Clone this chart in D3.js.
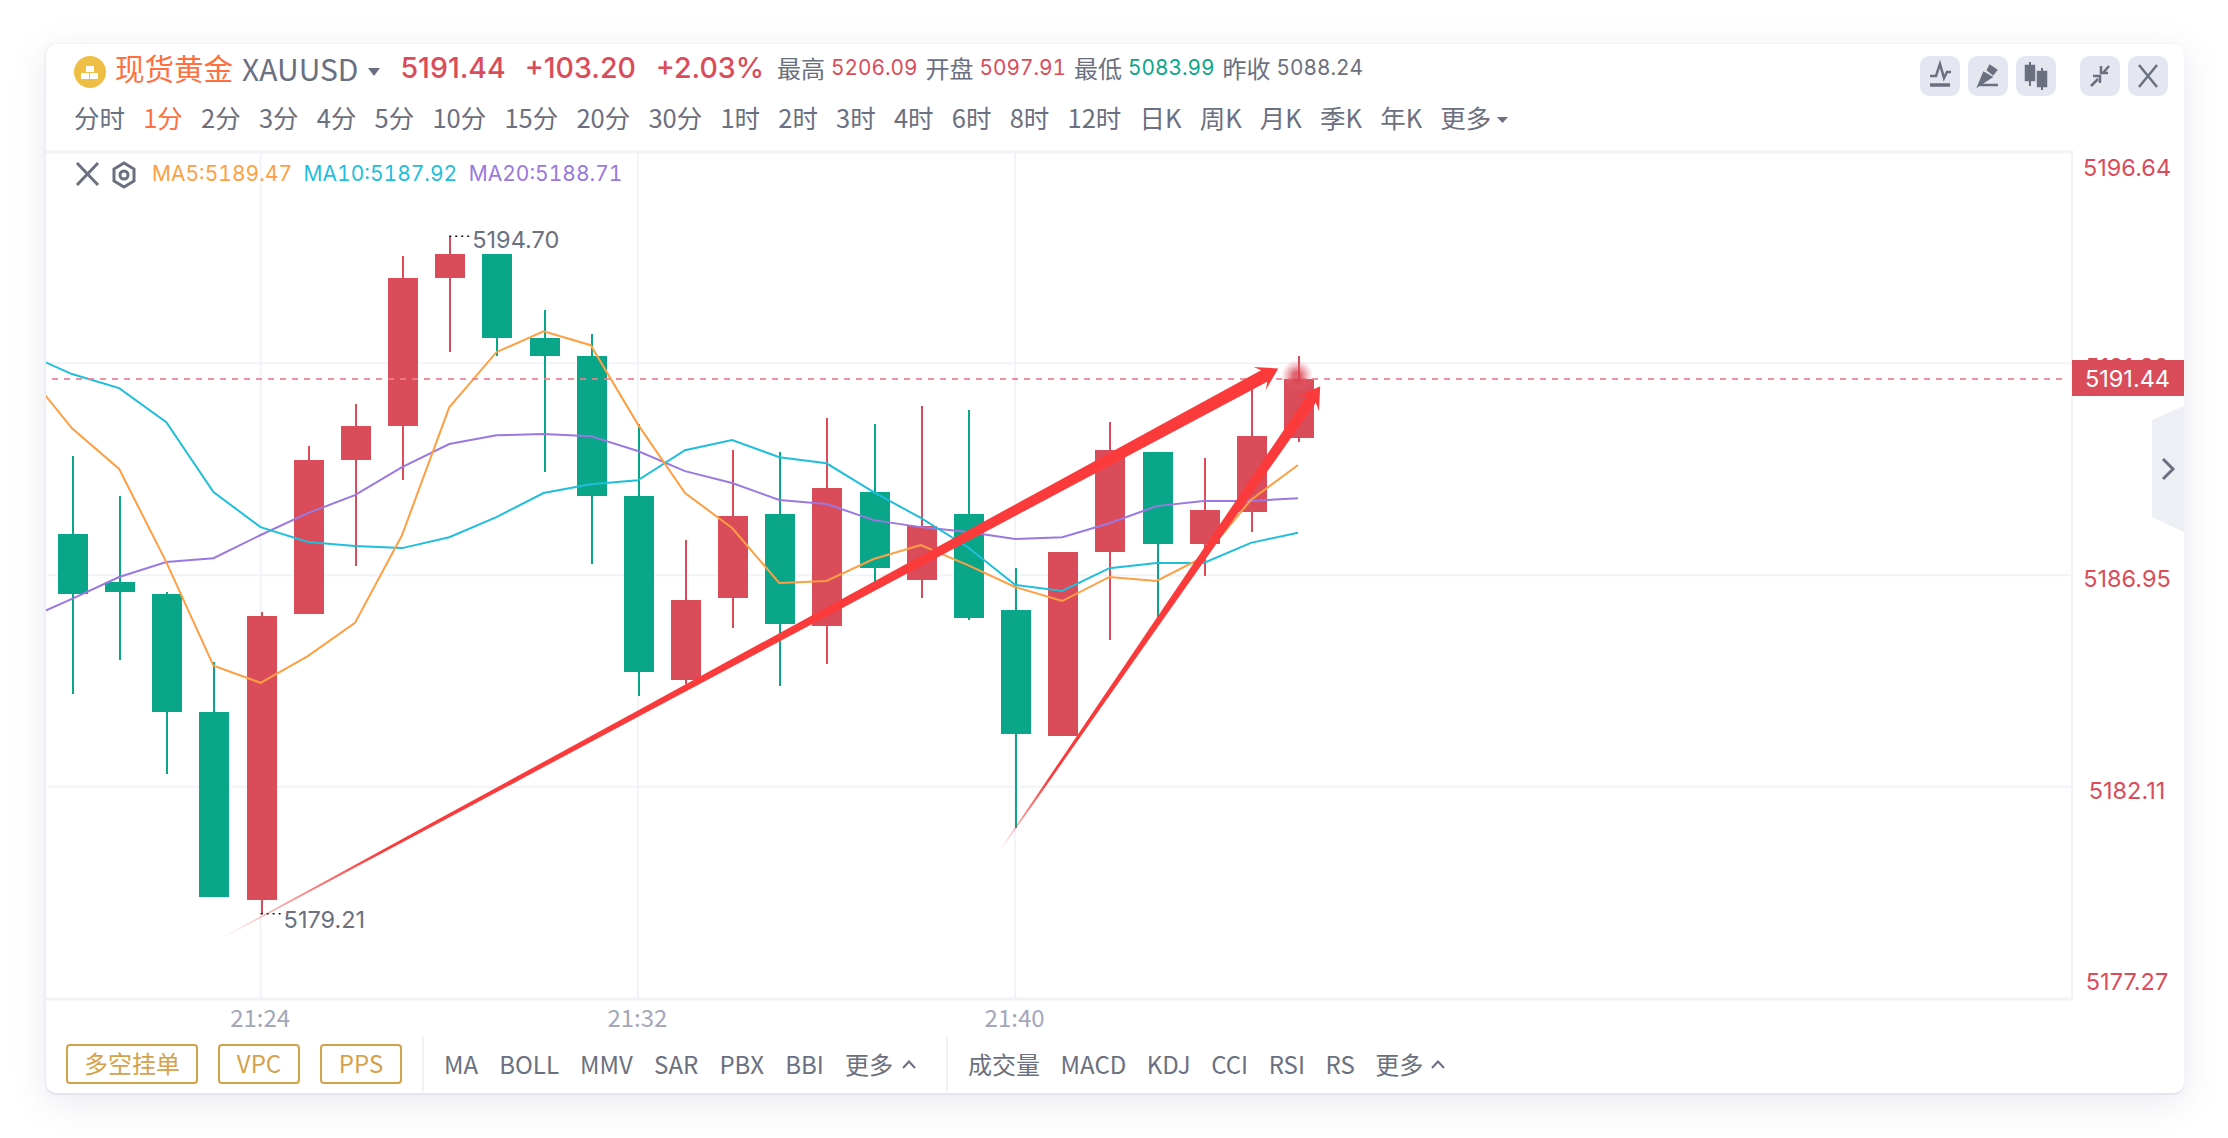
<!DOCTYPE html>
<html>
<head>
<meta charset="utf-8">
<script src="https://cdn.jsdelivr.net/npm/d3@7"></script>
<style>
  html, body { margin: 0; padding: 0; background: #fff; }
  body { width: 2228px; height: 1138px; position: relative; overflow: hidden; font-family: "Noto Sans CJK SC", sans-serif; color: #6b7080; }
  #panel { position: absolute; left: 46px; top: 44px; width: 2138px; height: 1049px; background: #fff; border-radius: 10px;
           box-shadow: 0 2px 1px #e3e5ee, -1px 0 2px #e8e9f0, 0 8px 36px rgba(80,85,120,.13); }
  svg { position: absolute; left: 0; top: 0; }
  .row { position: absolute; display: flex; align-items: center; white-space: nowrap; line-height: 1; }
  .num { font-family: Inter, sans-serif; }
  .tab { font-variant-numeric: tabular-nums; }
  text { font-family: "Noto Sans CJK SC", sans-serif; }
  .btn { border: 2px solid #d4a24c; color: #d4a24c; border-radius: 4px; height: 36px; padding-bottom: 2px; height: 34px; display: flex; align-items: center; justify-content: center; font-size: 24px; box-sizing: content-box; }
</style>
</head>
<body>
<div id="panel"></div>
<svg id="chart" width="2228" height="1138"></svg>
<script>
// minute candles, oldest first
const times = ["21:20","21:21","21:22","21:23","21:24","21:25","21:26","21:27","21:28","21:29","21:30","21:31","21:32","21:33","21:34","21:35","21:36","21:37","21:38","21:39","21:40","21:41","21:42","21:43","21:44","21:45","21:46"];
const opens  = [5187.89,5186.79,5186.52,5183.83,5179.53,5186.06,5189.58,5190.36,5193.74,5194.29,5192.37,5191.96,5188.76,5184.56,5186.43,5188.35,5185.79,5188.85,5186.84,5188.35,5186.15,5183.28,5187.48,5189.76,5187.66,5188.39,5190.08];
const closes = [5186.52,5186.57,5183.83,5179.58,5186.02,5189.58,5190.36,5193.74,5194.29,5192.37,5191.96,5188.76,5184.74,5186.38,5188.30,5185.84,5188.94,5187.11,5188.07,5185.97,5183.32,5187.48,5189.81,5187.66,5188.44,5190.13,5191.44];
const highs  = [5189.67,5188.76,5186.57,5184.97,5186.11,5189.90,5190.86,5194.24,5194.70,5194.29,5193.01,5192.46,5190.40,5187.75,5189.81,5189.76,5190.54,5190.40,5190.81,5190.72,5187.11,5187.48,5190.45,5189.76,5189.63,5191.23,5191.96];
const lows   = [5184.24,5185.01,5182.41,5179.58,5179.21,5186.06,5187.16,5189.12,5192.05,5191.96,5189.31,5187.21,5184.19,5184.47,5185.74,5184.42,5184.92,5186.79,5186.43,5185.93,5181.18,5183.28,5185.47,5185.93,5186.93,5187.94,5189.99];

// moving averages start one candle before the first full one
const ma5  = [5191.64,5190.31,5189.38,5187.25,5184.88,5184.49,5185.10,5185.86,5187.87,5190.79,5192.05,5192.53,5192.21,5190.40,5188.83,5188.03,5186.77,5186.82,5187.32,5187.64,5187.18,5186.68,5186.36,5186.91,5186.82,5187.37,5188.67,5189.47];
const ma10 = [5192.03,5191.55,5191.23,5190.45,5188.85,5188.05,5187.71,5187.62,5187.57,5187.82,5188.28,5188.83,5189.03,5189.12,5189.81,5190.04,5189.65,5189.51,5188.85,5188.26,5187.59,5186.73,5186.59,5187.11,5187.23,5187.23,5187.69,5187.92];
const ma20 = [5185.93,5186.41,5186.91,5187.25,5187.34,5187.87,5188.37,5188.78,5189.42,5189.95,5190.15,5190.18,5190.13,5189.79,5189.33,5189.06,5188.67,5188.58,5188.21,5188.05,5187.94,5187.78,5187.82,5188.14,5188.53,5188.65,5188.65,5188.71];

const yTicks = [5196.64,5191.80,5186.95,5182.11,5177.27];
const xTickIndex = [4,12,20];
const lastPrice = 5191.44;

// hand drawn arrows: [candle index, price]
const arrowTails = [[3.22,5178.69],[19.70,5180.72]];
const arrowTips  = [[25.56,5191.68],[26.45,5191.27]];

const timeframes = ["分时","1分","2分","3分","4分","5分","10分","15分","20分","30分","1时","2时","3时","4时","6时","8时","12时","日K","周K","月K","季K","年K","更多"];
const statLabels = ["最高","开盘","最低","昨收"];
const statValues = ["5206.09","5097.91","5083.99","5088.24"];
const mainIndicators = ["MA","BOLL","MMV","SAR","PBX","BBI","更多"];
const subIndicators = ["成交量","MACD","KDJ","CCI","RSI","RS","更多"];
const orderButtons = ["多空挂单","VPC","PPS"];

const RED = "#db4c5a", GREEN = "#0aa68a", GREY = "#6b7080", ORANGE = "#ff9f43", CYAN = "#1fbfdc", PURPLE = "#9b78e0", GRID = "#f2f3f8";

const plot = {left: 46, right: 2072, top: 152, bottom: 999};

const x = d3.scaleLinear().domain([0, 26]).range([73, 1299]);
const y = d3.scaleLinear().domain([5177.27, 5196.64]).range([plot.bottom - .5, plot.top - .5]);

const svg = d3.select("#chart");
const defs = svg.append("defs");
defs.append("clipPath").attr("id", "plotClip").append("rect")
    .attr("x", plot.left).attr("y", plot.top).attr("width", plot.right - plot.left).attr("height", plot.bottom - plot.top);

// Grid and frame
const grid = svg.append("g").attr("stroke", GRID).attr("stroke-width", 2);
grid.selectAll(".h").data(yTicks.slice(1, 4)).join("line")
    .attr("x1", plot.left + 2).attr("x2", plot.right).attr("y1", d => y(d)).attr("y2", d => y(d));
grid.selectAll(".v").data(xTickIndex).join("line")
    .attr("x1", d => x(d) - 1).attr("x2", d => x(d) - 1).attr("y1", plot.top).attr("y2", plot.bottom);
grid.append("line").attr("x1", plot.left).attr("x2", plot.right).attr("y1", plot.top).attr("y2", plot.top).attr("stroke-width", 3);
grid.append("line").attr("x1", plot.left).attr("x2", plot.right).attr("y1", plot.bottom).attr("y2", plot.bottom).attr("stroke-width", 3);
grid.append("line").attr("x1", plot.right).attr("x2", plot.right).attr("y1", plot.top - 2).attr("y2", plot.bottom);

// Candles
const candles = svg.append("g").attr("clip-path", "url(#plotClip)");
const color = i => closes[i] >= opens[i] ? RED : GREEN;
const cx = i => Math.round(x(i));
candles.selectAll("line").data(times).join("line")
    .attr("x1", (d, i) => cx(i)).attr("x2", (d, i) => cx(i))
    .attr("y1", (d, i) => Math.round(y(highs[i]))).attr("y2", (d, i) => Math.round(y(lows[i])))
    .attr("stroke-width", 2).attr("stroke", (d, i) => color(i));
candles.selectAll("rect").data(times).join("rect")
    .attr("x", (d, i) => cx(i) - 15).attr("width", 30)
    .attr("y", (d, i) => Math.round(y(Math.max(opens[i], closes[i]))))
    .attr("height", (d, i) => Math.max(1, Math.round(y(Math.min(opens[i], closes[i]))) - Math.round(y(Math.max(opens[i], closes[i])))))
    .attr("fill", (d, i) => color(i));

// Moving averages
const maLine = d3.line().x((d, i) => x(i - 1) - 1).y(d => y(d));
svg.append("g").attr("clip-path", "url(#plotClip)").attr("fill", "none").attr("stroke-width", 2)
  .selectAll("path").data([[ma20, PURPLE], [ma10, CYAN], [ma5, ORANGE]]).join("path")
    .attr("d", d => maLine(d[0])).attr("stroke", d => d[1]);

// Last price line
svg.append("line").attr("x1", plot.left + 6).attr("x2", plot.right - 4).attr("y1", y(lastPrice)).attr("y2", y(lastPrice))
    .attr("stroke", "#ee7f8c").attr("stroke-width", 2).attr("stroke-dasharray", "6 6").attr("opacity", .85);

// Pulse on the last candle
const glow = defs.append("radialGradient").attr("id", "glow");
glow.append("stop").attr("offset", "25%").attr("stop-color", "#d8404f").attr("stop-opacity", .8);
glow.append("stop").attr("offset", "100%").attr("stop-color", "#e8707c").attr("stop-opacity", 0);
svg.append("circle").attr("cx", x(26) - 2).attr("cy", y(lastPrice) - 3).attr("r", 16).attr("fill", "url(#glow)");

// Extreme labels
const iMax = d3.maxIndex(highs), iMin = d3.minIndex(lows);
[[iMax, highs[iMax], 3.5], [iMin, lows[iMin], 6]].forEach(([i, v, dy]) => {
  svg.append("line").attr("x1", x(i) - 1).attr("x2", x(i) + 20).attr("y1", y(v)).attr("y2", y(v))
      .attr("stroke", "#111").attr("stroke-width", 1.5).attr("stroke-dasharray", "2 4");
  svg.append("text").attr("x", x(i) + 22).attr("y", y(v) + dy).attr("dy", ".36em")
      .style("font-family", "Inter").style("font-size", "23.5px").attr("fill", GREY).text(v.toFixed(2));
});

// Arrows, tapered and fading out at the tail
const arrowPoly = d3.line();
arrowTails.forEach((tail, k) => {
  const p0 = [x(tail[0]), y(tail[1])], p1 = [x(arrowTips[k][0]), y(arrowTips[k][1])];
  const dx = p1[0] - p0[0], dy = p1[1] - p0[1], len = Math.hypot(dx, dy);
  const at = (d, w) => [p0[0] + dx / len * d - dy / len * w, p0[1] + dy / len * d + dx / len * w];
  const neck = len - 16, back = len - 21, hw = k === 0 ? 6.5 : 5.6;
  const steps = d3.range(0, 1.001, .1);
  const width = t => .5 + (hw - .5) * t;
  const pts = [
    ...steps.map(t => at(neck * t, width(t))),
    at(back, 13), p1, at(back, -13),
    ...steps.slice().reverse().map(t => at(neck * t, -width(t)))
  ];
  const g = defs.append("linearGradient").attr("id", "arrow" + k).attr("gradientUnits", "userSpaceOnUse")
      .attr("x1", p0[0]).attr("y1", p0[1]).attr("x2", p1[0]).attr("y2", p1[1]);
  g.append("stop").attr("offset", 0).attr("stop-color", "#fb3b3b").attr("stop-opacity", .05);
  g.append("stop").attr("offset", .06).attr("stop-color", "#fb3b3b").attr("stop-opacity", .55);
  g.append("stop").attr("offset", .15).attr("stop-color", "#fb3b3b").attr("stop-opacity", 1);
  svg.append("path").attr("d", arrowPoly(pts) + "Z").attr("fill", `url(#arrow${k})`);
});

// Axes
const yAxis = d3.axisRight(y).tickValues(yTicks).tickFormat(d3.format(".2f")).tickSize(0).tickPadding(0);
const yAxisG = svg.append("g").attr("transform", "translate(2127,0)").call(yAxis);
yAxisG.select(".domain").remove();
const yLabelShift = [16.5, 4, 3.5, 4.5, -16.5];
yAxisG.selectAll("text").attr("text-anchor", "middle").attr("fill", RED)
    .attr("transform", (d, i) => `translate(0,${yLabelShift[i]})`)
    .style("font-family", "Inter").style("font-size", "23.5px");

const xAxis = d3.axisBottom(x).tickValues(xTickIndex).tickFormat(i => times[i]).tickSize(0).tickPadding(11);
const xAxisG = svg.append("g").attr("transform", `translate(-2,${plot.bottom})`).call(xAxis);
xAxisG.select(".domain").remove();
xAxisG.selectAll("text").attr("fill", "#a3a7ba").style("font-size", "24px");

// Price tag over the axis
svg.append("rect").attr("x", plot.right).attr("width", 2184 - plot.right).attr("y", 360).attr("height", 36).attr("fill", RED);
svg.append("text").attr("x", 2127.5).attr("y", y(lastPrice)).attr("dy", ".36em").attr("text-anchor", "middle").attr("fill", "#fff")
    .style("font-family", "Inter").style("font-size", "23.5px").text(lastPrice.toFixed(2));

// Side tab
svg.append("path").attr("d", "M2184,406 L2152,420 V517 L2184,532 Z").attr("fill", "#eeeff4");
svg.append("path").attr("d", "M2163,459 L2173,469 L2163,479").attr("fill", "none").attr("stroke", GREY).attr("stroke-width", 3);

// Coin icon
svg.append("circle").attr("cx", 90).attr("cy", 72).attr("r", 16).attr("fill", "#efbf45");
svg.selectAll(".coin").data([[86, 66], [81, 73], [90, 73]]).join("rect")
    .attr("x", d => d[0]).attr("y", d => d[1]).attr("width", 8).attr("height", 6).attr("fill", "#fff");
svg.append("path").attr("d", "M368,68 H380 L374,76 Z").attr("fill", GREY);
svg.append("path").attr("d", "M1497,117 H1508 L1502.5,123 Z").attr("fill", GREY);

// Legend icons
svg.append("path").attr("d", "M77,163 L98,185 M98,163 L77,185").attr("stroke", GREY).attr("stroke-width", 3).attr("fill", "none");
svg.append("path").attr("d", "M124,163 L134,169 V181 L124,187 L114,181 V169 Z").attr("stroke", GREY).attr("stroke-width", 3).attr("fill", "none");
svg.append("circle").attr("cx", 124).attr("cy", 175).attr("r", 4).attr("stroke", GREY).attr("stroke-width", 3).attr("fill", "none");

// Toolbar buttons
const toolX = [1920, 1968, 2016, 2080, 2128];
svg.selectAll(".tool").data(toolX).join("rect").attr("x", d => d).attr("y", 56).attr("width", 40).attr("height", 40).attr("rx", 9).attr("fill", "#e4e7ef");
const tools = svg.append("g").attr("fill", "none").attr("stroke", GREY).attr("stroke-width", 2.5);
tools.append("path").attr("d", "M1930,76 L1936,76 L1940,64 L1944,78 L1947,72 L1951,72");
tools.append("path").attr("d", "M1930,85 H1950").attr("stroke-width", 3.5);
tools.append("path").attr("d", "M1978,85 H1998 M1985,81 L1979,85 L1984,73 L1991,77 Z M1988,70 L1990,66 L1996,70 L1993,74 Z").attr("fill", GREY);
tools.append("path").attr("d", "M2030,62 V86 M2042,68 V90").attr("stroke-width", 2);
tools.append("rect").attr("x", 2026).attr("y", 66).attr("width", 8).attr("height", 14).attr("fill", GREY);
tools.append("rect").attr("x", 2038).attr("y", 72).attr("width", 8).attr("height", 14).attr("fill", GREY);
tools.append("path").attr("d", "M2091,86 L2098,79 M2093,76 H2100 V83 M2109,66 L2103,73 M2101,66 V73 H2108").attr("stroke-width", 2.5);
tools.append("path").attr("d", "M2139,65 L2157,87 M2157,65 L2139,87");

// Text rows
const body = d3.select("body");
const row = (left, top, gap) => body.append("div").attr("class", "row")
    .style("left", left + "px").style("top", top + "px").style("gap", gap + "px");

const head = row(115, 52, 0).style("height", "32px");
const headSpan = (txt, size, col, ml, cls, weight) => head.append("span").text(txt)
    .attr("class", cls || null).style("font-size", size + "px").style("color", col)
    .style("margin-left", ml + "px").style("font-weight", weight || 400);
headSpan("现货黄金", 29.5, "#ff6f3f", 0);
headSpan("XAUUSD", 30, GREY, 9);
headSpan("5191.44", 28.5, RED, 42, "num", 500);
headSpan("+103.20", 28.5, RED, 19, "num", 500);
headSpan("+2.03%", 28.5, RED, 20, "num", 500);
const statColors = [RED, RED, GREEN, GREY];
statLabels.forEach((s, i) => {
  headSpan(s, 24, GREY, i ? 8 : 13);
  headSpan(statValues[i], 20.8, statColors[i], 6, "num tab");
});

const tf = row(74, 104, 18.2).style("font-size", "25.5px");
tf.selectAll("span").data(timeframes).join("span").text(d => d).style("color", d => d === "1分" ? "#ff6f3f" : GREY);

const legend = row(152, 163, 11.5).style("font-size", "21px").attr("class", "row num tab");
legend.selectAll("span").data([["MA5:5189.47", ORANGE], ["MA10:5187.92", CYAN], ["MA20:5188.71", PURPLE]]).join("span")
    .text(d => d[0]).style("color", d => d[1]);

const btnWidth = [128, 78, 78];
const btns = row(66, 1044, 20);
btns.selectAll("div").data(orderButtons).join("div").attr("class", "btn").style("width", (d, i) => btnWidth[i] + "px").text(d => d);

const caretUp = (g) => g.append("svg").attr("width", 14).attr("height", 9).style("position", "static").style("margin-left", "-12.5px")
    .append("path").attr("d", "M1,8 L7,1.5 L13,8").attr("fill", "none").attr("stroke", GREY).attr("stroke-width", 2);

const mainRow = row(444, 1052, 21.2).style("font-size", "24px");
mainRow.selectAll("span").data(mainIndicators).join("span").text(d => d);
caretUp(mainRow);

const subRow = row(968, 1052, 20.6).style("font-size", "24px");
subRow.selectAll("span").data(subIndicators).join("span").text(d => d);
caretUp(subRow);

// Dividers in the bottom bar
svg.selectAll(".div").data([423, 947]).join("line").attr("x1", d => d).attr("x2", d => d).attr("y1", 1036).attr("y2", 1092)
    .attr("stroke", "#f0f1f5").attr("stroke-width", 2);
</script>
</body>
</html>
